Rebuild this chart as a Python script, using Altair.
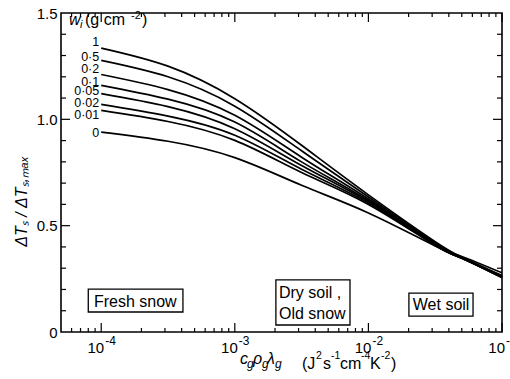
import altair as alt
import pandas as pd

# ---- data ----
x_vals = [1e-4, 3.16e-4, 1e-3, 3.16e-3, 1e-2, 3.16e-2, 5e-2, 1e-1]
w_names = ["1", "0·5", "0·2", "0·1", "0·05", "0·02", "0·01", "0"]
y_w1    = [1.335, 1.250, 1.097, 0.878, 0.645, 0.425, 0.352, 0.258]
y_w05   = [1.277, 1.200, 1.062, 0.852, 0.635, 0.420, 0.350, 0.257]
y_w02   = [1.211, 1.140, 1.019, 0.822, 0.625, 0.415, 0.348, 0.256]
y_w01   = [1.160, 1.095, 0.987, 0.800, 0.618, 0.412, 0.347, 0.256]
y_w005  = [1.121, 1.060, 0.956, 0.783, 0.612, 0.410, 0.347, 0.257]
y_w002  = [1.070, 1.015, 0.925, 0.765, 0.606, 0.408, 0.348, 0.262]
y_w001  = [1.042, 0.990, 0.901, 0.750, 0.600, 0.407, 0.349, 0.265]
y_w0    = [0.940, 0.897, 0.820, 0.690, 0.560, 0.405, 0.355, 0.278]
label_y = [1.363, 1.293, 1.236, 1.175, 1.133, 1.077, 1.020, 0.936]
label_x = [1e-4] * 8

x_major = [1e-4, 1e-3, 1e-2, 1e-1]
x_major_base = ["10", "10", "10", "10"]
x_major_exp = ["-4", "-3", "-2", "-1"]
x_minor = [6e-5, 7e-5, 8e-5, 9e-5,
           2e-4, 3e-4, 4e-4, 5e-4, 6e-4, 7e-4, 8e-4, 9e-4,
           2e-3, 3e-3, 4e-3, 5e-3, 6e-3, 7e-3, 8e-3, 9e-3,
           2e-2, 3e-2, 4e-2, 5e-2, 6e-2, 7e-2, 8e-2, 9e-2]
y_major = [0.5, 1.0]
y_minor = [0.1, 0.2, 0.3, 0.4, 0.6, 0.7, 0.8, 0.9, 1.1, 1.2, 1.3, 1.4]

box_names = ["Fresh snow", "Dry soil", "Wet soil"]
box_x1 = [8.0e-5, 2.03e-3, 2.01e-2]
box_x2 = [4.09e-4, 7.28e-3, 6.07e-2]
box_y1 = [0.094, 0.033, 0.075]
box_y2 = [0.202, 0.245, 0.183]
box_text = ["Fresh snow", "Dry soil ,", "Old snow", "Wet soil"]
box_text_x = [1.8e-4, 2.14e-3, 2.14e-3, 3.5e-2]
box_text_y = [0.141, 0.183, 0.085, 0.127]
box_text_align = ["center", "left", "left", "center"]

# ---- tables ----
series = [y_w1, y_w05, y_w02, y_w01, y_w005, y_w002, y_w001, y_w0]
rows = []
for name, ys_ in zip(w_names, series):
    for xv, yv in zip(x_vals, ys_):
        rows.append({"x": xv, "y": yv, "w": name})
df = pd.DataFrame(rows)
df_lab = pd.DataFrame({"x": label_x, "y": label_y, "t": w_names})
df_box = pd.DataFrame({"x1": box_x1, "x2": box_x2, "y1": box_y1, "y2": box_y2, "n": box_names})
df_bt = pd.DataFrame({"x": box_text_x, "y": box_text_y, "t": box_text, "a": box_text_align})
df_xl = pd.DataFrame({"v": x_major, "b": x_major_base, "e": x_major_exp})

W, H = 441, 319
FONT = "Liberation Sans"
xs = alt.Scale(type="log", domain=[5e-5, 0.1], nice=False)
ys = alt.Scale(domain=[0, 1.5], nice=False, zero=False)

y_label_expr = "datum.value == 0 ? '0' : format(datum.value, '.1f')"

x_axis = alt.Axis(values=x_major, labels=False, ticks=False, domain=False, grid=False, title=None)
y_axis = alt.Axis(values=[0, 0.5, 1.0, 1.5], labelExpr=y_label_expr, ticks=False, domain=False,
                  grid=False, title="ΔTₛ / ΔTₛ,ₘₐₓ", titleFontStyle="italic", titleFontSize=16,
                  titleFontWeight="normal", titleX=-40, titleY=188, titleAngle=-90,
                  titleAlign="center", titleBaseline="middle", labelPadding=4,
                  labelFontSize=15, labelFlush=False, labelOverlap=False)


def X(field):
    return alt.X(field, scale=xs, axis=x_axis, title=None)


def Y(field):
    return alt.Y(field, scale=ys, axis=y_axis, title="ΔTₛ / ΔTₛ,ₘₐₓ")


lines = alt.Chart(df).mark_line(color="black", strokeWidth=1.7, interpolate="natural").encode(
    x=X("x:Q"), y=Y("y:Q"), detail="w:N")

labels = alt.Chart(df_lab).mark_text(align="right", baseline="middle", dx=-2, fontSize=12.5,
                                     font=FONT, color="black").encode(
    x=X("x:Q"), y=Y("y:Q"), text="t:N")

xlab_base = alt.Chart(df_xl).mark_text(align="right", baseline="alphabetic", dx=3, fontSize=15,
                                       font=FONT, color="black").encode(
    x=X("v:Q"), y=alt.value(H + 21), text="b:N")
xlab_exp = alt.Chart(df_xl).mark_text(align="left", baseline="alphabetic", dx=4, fontSize=12,
                                      font=FONT, color="black").encode(
    x=X("v:Q"), y=alt.value(H + 13), text="e:N")


def xticks(vals, length):
    d = pd.DataFrame({"v": vals})
    bot = alt.Chart(d).mark_rule(color="black", strokeWidth=1.2).encode(
        x=X("v:Q"), y=alt.value(H), y2=alt.value(H - length))
    top = alt.Chart(d).mark_rule(color="black", strokeWidth=1.2).encode(
        x=X("v:Q"), y=alt.value(0), y2=alt.value(length))
    return [bot, top]


def yticks(vals, length):
    d = pd.DataFrame({"v": vals})
    left = alt.Chart(d).mark_rule(color="black", strokeWidth=1.2).encode(
        y=Y("v:Q"), x=alt.value(0), x2=alt.value(length))
    right = alt.Chart(d).mark_rule(color="black", strokeWidth=1.2).encode(
        y=Y("v:Q"), x=alt.value(W), x2=alt.value(W - length))
    return [left, right]


ticks = xticks(x_major, 9) + xticks(x_minor, 4) + yticks(y_major, 9) + yticks(y_minor, 5)

boxes = alt.Chart(df_box).mark_rect(fill="white", stroke="black", strokeWidth=1.3).encode(
    x=X("x1:Q"), x2="x2:Q", y=Y("y1:Q"), y2="y2:Q")

box_txt_c = alt.Chart(df_bt[df_bt.a == "center"]).mark_text(
    align="center", baseline="middle", fontSize=16, font=FONT, color="black").encode(
    x=X("x:Q"), y=Y("y:Q"), text="t:N")
box_txt_l = alt.Chart(df_bt[df_bt.a == "left"]).mark_text(
    align="left", baseline="middle", fontSize=16, font=FONT, color="black").encode(
    x=X("x:Q"), y=Y("y:Q"), text="t:N")

one = pd.DataFrame({"k": [0]})


def ptext(txt, px, py, size=16, style="normal"):
    return alt.Chart(one).mark_text(align="left", baseline="alphabetic", fontSize=size,
                                    font=FONT, fontStyle=style, color="black").encode(
        x=alt.value(px), y=alt.value(py), text=alt.value(txt))


# x-axis title: c_g rho_g lambda_g  (J^2 s^-1 cm^-4 K^-2)
title_parts = [
    ptext("c", 179, 351, 16, "italic"),
    ptext("g", 186, 355, 12, "italic"),
    ptext("ρ", 192, 351, 16, "italic"),
    ptext("g", 201, 355, 12, "italic"),
    ptext("λ", 206, 351, 16, "italic"),
    ptext("g", 214, 355, 12, "italic"),
    ptext("(J", 241, 356, 16),
    ptext("2", 255, 346, 10.5),
    ptext("s", 262, 356, 16),
    ptext("-1", 270, 346, 10.5),
    ptext("cm", 279, 356, 16),
    ptext("-4", 300, 346, 10.5),
    ptext("K", 309, 356, 16),
    ptext("-2", 320, 346, 10.5),
    ptext(")", 330, 356, 16),
    # w_i (g cm^-2) label inside the plot
    ptext("w", 8, 12, 16, "italic"),
    ptext("i", 19, 15, 11, "italic"),
    ptext("(g  cm", 24, 12, 16),
    ptext("-2", 70, 6, 11),
    ptext(")", 81, 12, 16),
]

chart = alt.layer(
    boxes, box_txt_c, box_txt_l, lines, labels, xlab_base, xlab_exp, *ticks, *title_parts
).properties(
    width=W, height=H,
    autosize=alt.AutoSizeParams(type="none"),
    padding={"left": 61, "top": 13, "right": 8, "bottom": 47},
    background="white",
).configure_view(
    stroke="black", strokeWidth=1.6
).configure_axis(
    labelFont=FONT, titleFont=FONT, labelColor="black", titleColor="black"
)

chart.save("out.html", embed_options={"renderer": "svg", "actions": False})
